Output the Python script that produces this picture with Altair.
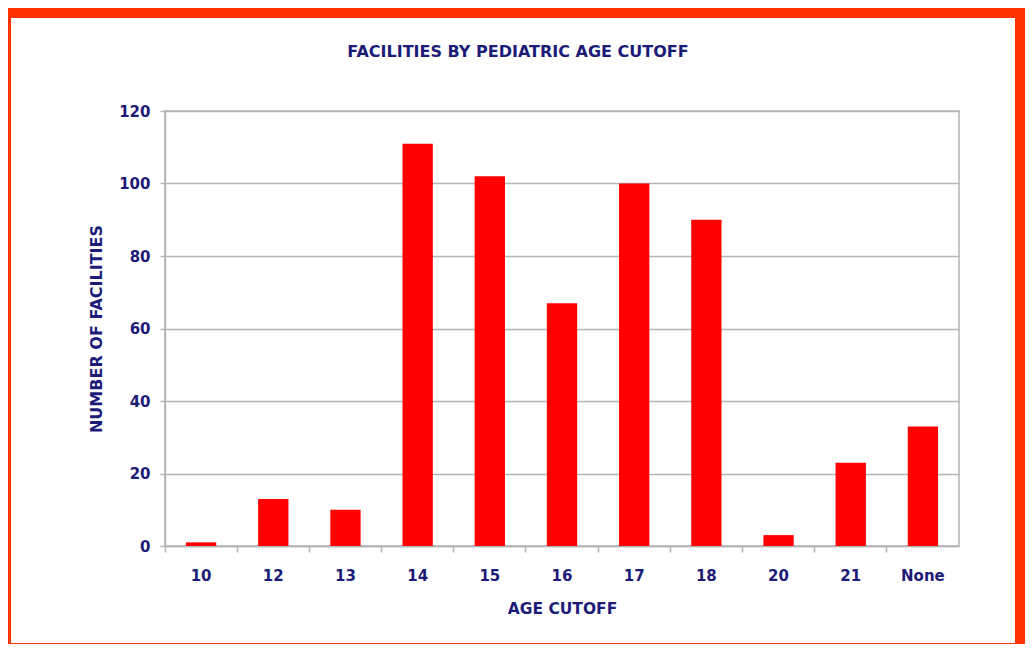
import altair as alt
import pandas as pd

title_text = ["FACILITIES BY PEDIATRIC AGE CUTOFF"]
categories = ["10", "12", "13", "14", "15", "16", "17", "18", "20", "21", "None"]
counts = [1, 13, 10, 111, 102, 67, 100, 90, 3, 23, 33]

df = pd.DataFrame({"age": categories, "n": counts})

NAVY = "#1c1c78"
GRID = "#b4b4b4"
W, H = 794, 435

bars = alt.Chart(df).mark_bar(color="#ff0000", width=alt.RelativeBandSize(0.42)).encode(
    x=alt.X(
        "age:N",
        sort=None,
        scale=alt.Scale(paddingInner=0, paddingOuter=0),
        axis=alt.Axis(
            title="AGE CUTOFF",
            labelAngle=0,
            bandPosition=0,
            tickSize=6,
            labelPadding=16,
            titlePadding=18,
            titleFontSize=15.5,
            grid=False,
        ),
    ),
    y=alt.Y(
        "n:Q",
        scale=alt.Scale(domain=[0, 120]),
        axis=alt.Axis(
            title="NUMBER OF FACILITIES",
            values=[0, 20, 40, 60, 80, 100, 120],
            tickSize=5,
            labelPadding=10,
            titlePadding=14,
            titleFontSize=16,
            grid=True,
        ),
    ),
)

title = alt.Chart(pd.DataFrame({"t": title_text})).mark_text(
    font="DejaVu Sans",
    fontSize=16,
    fontWeight="bold",
    color=NAVY,
    align="center",
    baseline="middle",
    clip=False,
).encode(text="t:N", x=alt.value(353), y=alt.value(-59))

frame = alt.Chart(pd.DataFrame({"k": [0]})).mark_rect(
    fillOpacity=0, stroke="#ff3300", strokeWidth=20, clip=False
).encode(
    x=alt.value(-164), x2=alt.value(860), y=alt.value(-103), y2=alt.value(542)
)

chart = (
    alt.layer(bars, title, frame)
    .properties(
        width=W,
        height=H,
        autosize=alt.AutoSizeParams(type="none"),
        padding={"left": 157, "top": 103, "right": 66, "bottom": 98},
    )
    .configure(background="white")
    .configure_view(stroke=GRID, strokeWidth=1.5)
    .configure_axis(
        labelFont="DejaVu Sans",
        labelFontSize=15,
        labelFontWeight="bold",
        labelColor=NAVY,
        titleFont="DejaVu Sans",
        titleFontWeight="bold",
        titleColor=NAVY,
        domainColor=GRID,
        domainWidth=1.5,
        tickColor=GRID,
        tickWidth=1.5,
        gridColor=GRID,
        gridWidth=1.5,
    )
)

chart.save("out.html", embed_options={"renderer": "svg", "actions": False})
